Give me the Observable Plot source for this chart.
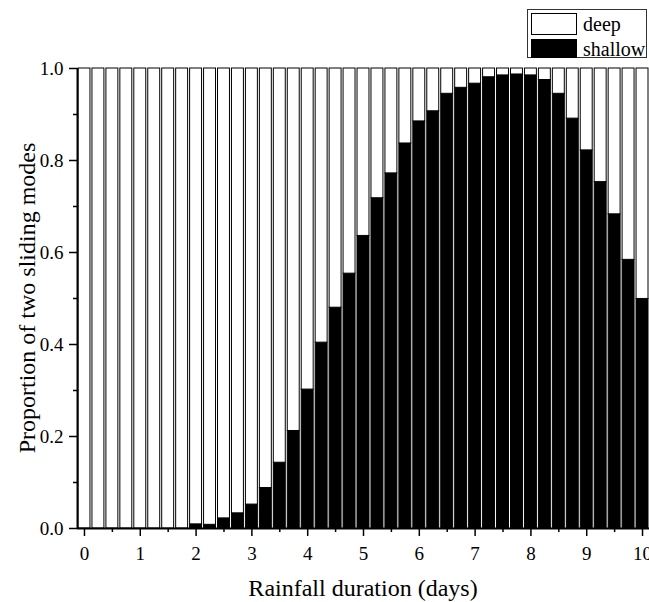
<!DOCTYPE html>
<html>
<head>
<meta charset="utf-8">
<script src="https://cdn.jsdelivr.net/npm/d3@7"></script>
<script src="https://cdn.jsdelivr.net/npm/@observablehq/plot@0.6"></script>
<style>
  html, body { margin: 0; padding: 0; background: white; }
  #wrap { position: relative; width: 649px; height: 602px; font-family: "Times New Roman", "Liberation Serif", "DejaVu Serif", serif; color: black; }
  #wrap svg { position: absolute; left: 0; top: 0; }
  #wrap svg text { font-family: "Times New Roman", "Liberation Serif", "DejaVu Serif", serif; }
  .title { position: absolute; white-space: nowrap; line-height: 1; font-size: 24px; }
  #legend { position: absolute; left: 527px; top: 9px; width: 120px; height: 49px; border: 1px solid #333; background: white; box-sizing: border-box; }
  .sw { position: absolute; left: 3px; width: 46px; box-sizing: border-box; border: 1.5px solid black; }
  .lt { position: absolute; left: 55px; font-size: 20px; line-height: 1; white-space: nowrap; }
</style>
</head>
<body>
<div id="wrap"></div>
<script>
// Rainfall duration (days)
const days = [0, 0.25, 0.5, 0.75, 1, 1.25, 1.5, 1.75, 2, 2.25, 2.5, 2.75, 3, 3.25, 3.5, 3.75,
  4, 4.25, 4.5, 4.75, 5, 5.25, 5.5, 5.75, 6, 6.25, 6.5, 6.75, 7, 7.25, 7.5, 7.75,
  8, 8.25, 8.5, 8.75, 9, 9.25, 9.5, 9.75, 10];
// proportion of shallow sliding
const shallow = [0, 0, 0, 0, 0, 0, 0, 0, 0.009, 0.008, 0.022, 0.033, 0.052, 0.088, 0.143, 0.212,
  0.302, 0.404, 0.480, 0.554, 0.636, 0.718, 0.772, 0.837, 0.885, 0.907, 0.945, 0.958, 0.967, 0.981, 0.985, 0.987,
  0.985, 0.975, 0.945, 0.891, 0.822, 0.753, 0.683, 0.584, 0.499];
// proportion of deep sliding
const deep = [1, 1, 1, 1, 1, 1, 1, 1, 0.991, 0.992, 0.978, 0.967, 0.948, 0.912, 0.857, 0.788,
  0.698, 0.596, 0.520, 0.446, 0.364, 0.282, 0.228, 0.163, 0.115, 0.093, 0.055, 0.042, 0.033, 0.019, 0.015, 0.013,
  0.015, 0.025, 0.055, 0.109, 0.178, 0.247, 0.317, 0.416, 0.501];
const modes = ["shallow", "deep"];
const xMajor = [0, 1, 2, 3, 4, 5, 6, 7, 8, 9, 10];
const xMinor = [0.5, 1.5, 2.5, 3.5, 4.5, 5.5, 6.5, 7.5, 8.5, 9.5];
const yMajor = [0, 0.2, 0.4, 0.6, 0.8, 1.0];
const yMinor = [0.1, 0.3, 0.5, 0.7, 0.9];
const xDomain = [-0.125, 10.125];
const halfStep = 0.125;

const rows = [];
days.forEach((d, i) => {
  rows.push({day: d, mode: "shallow", value: shallow[i]});
  rows.push({day: d, mode: "deep", value: deep[i]});
});

const font = "'Times New Roman', 'Liberation Serif', 'DejaVu Serif', serif";
const chart = Plot.plot({
  width: 649,
  height: 602,
  marginLeft: 77,
  marginRight: 0,
  marginTop: 68,
  marginBottom: 74,
  style: {fontFamily: font, background: "white", color: "black"},
  x: {domain: xDomain},
  y: {domain: [0, 1]},
  color: {domain: modes, range: ["black", "white"]},
  marks: [
    Plot.rectY(rows, Plot.stackY({
      filter: d => d.value > 0,
      x1: d => d.day - halfStep,
      x2: d => d.day + halfStep,
      y: "value",
      z: "mode",
      order: modes,
      fill: "mode",
      stroke: "black",
      strokeWidth: 1,
      insetLeft: 1,
      insetRight: 1
    })),
    Plot.axisX({ticks: xMajor, tickSize: 8, tickPadding: 10, fontSize: 19, strokeWidth: 1.5, label: null, tickFormat: d3.format("d"), fontFamily: font}),
    Plot.axisX({ticks: xMinor, tickSize: 4, strokeWidth: 1.5, label: null, tickFormat: () => ""}),
    Plot.axisY({ticks: yMajor, tickSize: 8, tickPadding: 6, fontSize: 19, strokeWidth: 1.5, label: null, tickFormat: d3.format(".1f"), fontFamily: font}),
    Plot.axisY({ticks: yMinor, tickSize: 4, strokeWidth: 1.5, label: null, tickFormat: () => ""}),
    Plot.ruleY([0], {stroke: "black", strokeWidth: 2}),
    Plot.ruleX([xDomain[0]], {y1: 0, y2: 1, stroke: "black", strokeWidth: 2})
  ]
});

const wrap = document.getElementById("wrap");
wrap.appendChild(chart);

const xt = document.createElement("div");
xt.className = "title";
xt.textContent = "Rainfall duration (days)";
xt.style.left = "363px";
xt.style.top = "576px";
xt.style.transform = "translateX(-50%)";
wrap.appendChild(xt);

const yt = document.createElement("div");
yt.className = "title";
yt.textContent = "Proportion of two sliding modes";
yt.style.left = "27px";
yt.style.top = "298px";
yt.style.transform = "translate(-50%, -50%) rotate(-90deg)";
wrap.appendChild(yt);

const lg = document.createElement("div");
lg.id = "legend";
[["deep", "white", 3, 22, 4], ["shallow", "black", 29, 19, 29]].forEach(([name, fill, top, h, ttop]) => {
  const sw = document.createElement("div");
  sw.className = "sw";
  sw.style.top = top + "px";
  sw.style.height = h + "px";
  sw.style.background = fill;
  lg.appendChild(sw);
  const t = document.createElement("div");
  t.className = "lt";
  t.style.top = ttop + "px";
  t.textContent = name;
  lg.appendChild(t);
});
wrap.appendChild(lg);
</script>
</body>
</html>
